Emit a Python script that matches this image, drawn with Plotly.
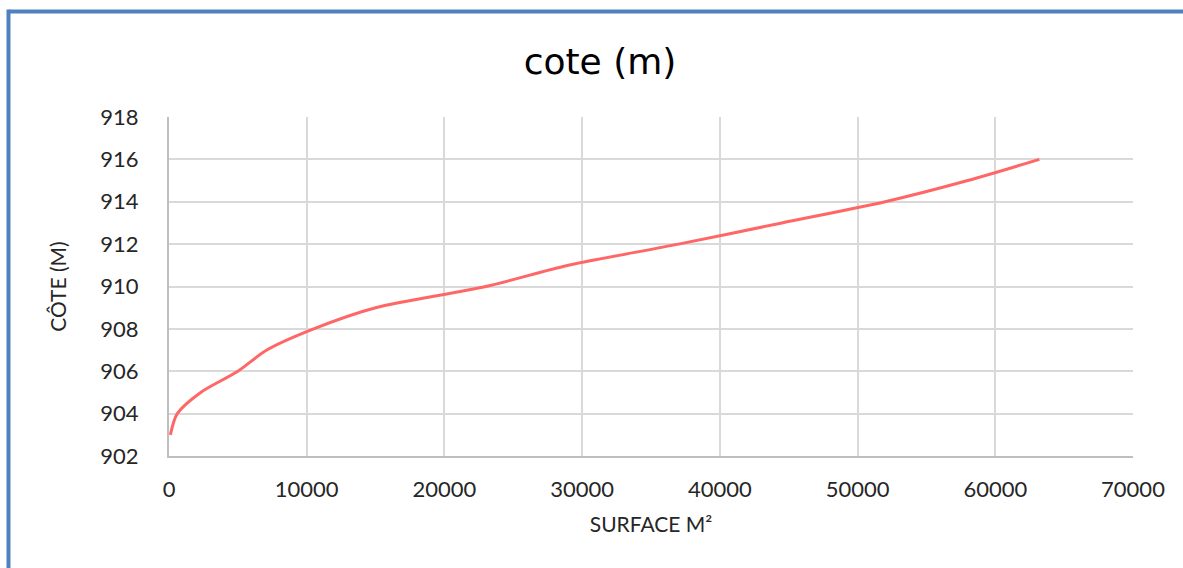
import plotly.graph_objects as go

surface = [100, 600, 2300, 5000, 7100, 10500, 15000, 23000, 29000, 37000, 44500, 52000, 58000, 63200]
cote = [903, 904, 905, 906, 907, 908, 909, 910, 911, 912, 913, 914, 915, 916]
x_ticks = [0, 10000, 20000, 30000, 40000, 50000, 60000, 70000]
y_ticks = [902, 904, 906, 908, 910, 912, 914, 916, 918]

W, H = 1183, 568
L, R, T, B = 169, 1133, 117, 456

def px(x):
    return (x - L) / (R - L)

def py(y):
    return (B - y) / (B - T)

fig = go.Figure()
fig.add_trace(go.Scatter(
    x=surface, y=cote, mode="lines",
    line=dict(color="#FF6666", width=3, shape="spline", smoothing=0.8),
    showlegend=False, hoverinfo="x+y"))

font = "Lato, 'Open Sans', sans-serif"
fig.update_layout(
    width=W, height=H,
    margin=dict(l=L, r=W - R, t=T, b=H - B),
    paper_bgcolor="white", plot_bgcolor="white",
    font=dict(family=font, color="#404040"),
    title=dict(text="cote (m)", x=600 / W, xanchor="center", y=1 - 61 / H, yanchor="middle",
               font=dict(size=36, color="#000000", family="'DejaVu Sans', sans-serif")),
    xaxis=dict(range=[0, 70000], tickvals=x_ticks, ticktext=[str(v) for v in x_ticks],
               showgrid=True, gridcolor="#D9D9D9", gridwidth=2,
               showline=True, linecolor="#BFBFBF", linewidth=2, zeroline=False,
               ticks="", ticklabelstandoff=13, tickfont=dict(size=22, color="#262626"),
               title=dict(text="SURFACE M²", font=dict(size=21, color="#262626"), standoff=16)),
    yaxis=dict(range=[902, 918], tickvals=y_ticks, ticktext=[str(v) for v in y_ticks],
               showgrid=True, gridcolor="#D9D9D9", gridwidth=2,
               showline=True, linecolor="#BFBFBF", linewidth=2, zeroline=False,
               ticks="", ticklabelstandoff=24, tickfont=dict(size=22, color="#262626"),
               title=dict(text="CÔTE (M)", font=dict(size=21, color="#262626"), standoff=28)),
    shapes=[
        dict(type="line", xref="paper", yref="paper", x0=px(9), x1=px(1190), y0=py(11.5), y1=py(11.5),
             line=dict(color="#4F81BD", width=4)),
        dict(type="line", xref="paper", yref="paper", x0=px(8.5), x1=px(8.5), y0=py(9.5), y1=py(580),
             line=dict(color="#4F81BD", width=4)),
    ],
)

fig.write_html("out.html")
